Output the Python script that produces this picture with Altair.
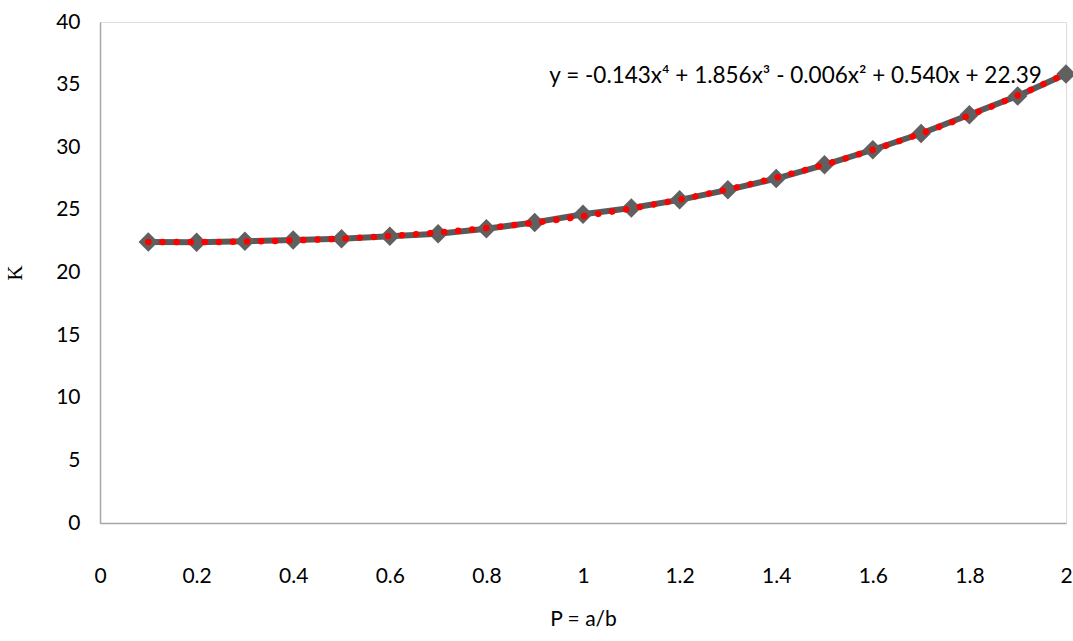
import altair as alt
import pandas as pd

p_vals = [0.1, 0.2, 0.3, 0.4, 0.5, 0.6, 0.7, 0.8, 0.9, 1.0,
          1.1, 1.2, 1.3, 1.4, 1.5, 1.6, 1.7, 1.8, 1.9, 2.0]
k_vals = [22.43, 22.42, 22.5, 22.6, 22.7, 22.9, 23.1, 23.5, 24.0, 24.65,
          25.15, 25.8, 26.6, 27.5, 28.6, 29.8, 31.1, 32.6, 34.1, 35.85]

eq_text = ["y = -0.143x\u2074 + 1.856x\u00b3 - 0.006x\u00b2 + 0.540x + 22.39"]
eq_x = [1.95]
eq_y = [35.65]

df = pd.DataFrame({"P": p_vals, "K": k_vals})
df_eq = pd.DataFrame({"t": eq_text, "x": eq_x, "y": eq_y})

xs = alt.Scale(domain=[0, 2], nice=False)
ys = alt.Scale(domain=[0, 40], nice=False)

base = alt.Chart(df)

line = base.mark_line(color="#5a5a5a", strokeWidth=6).encode(
    x=alt.X("P:Q", scale=xs, title="P = a/b",
            axis=alt.Axis(values=[0, 0.2, 0.4, 0.6, 0.8, 1, 1.2, 1.4, 1.6, 1.8, 2],
                          labelExpr="datum.value == 0 ? '0' : format(datum.value, '.1~f')",
                          grid=False, ticks=False, domainColor="#a6a6a6", domainWidth=1.5,
                          labelFont="Lato", labelFontSize=21, labelColor="#000",
                          labelPadding=42, labelFlush=False,
                          titleFont="Lato", titleFontSize=21, titleFontWeight="normal",
                          titleColor="#000", titlePadding=22)),
    y=alt.Y("K:Q", scale=ys, title="K",
            axis=alt.Axis(values=[0, 5, 10, 15, 20, 25, 30, 35, 40],
                          grid=False, ticks=False, domainColor="#a6a6a6", domainWidth=1.5,
                          labelFont="Lato", labelFontSize=21, labelColor="#000",
                          labelPadding=20,
                          titleFont="Liberation Serif", titleFontSize=21, titleFontWeight="normal",
                          titleColor="#000", titlePadding=30)),
)

pts = base.mark_point(shape="diamond", filled=True, color="#606060", size=380, opacity=1).encode(
    x=alt.X("P:Q", scale=xs), y=alt.Y("K:Q", scale=ys)
)

trend = base.transform_regression("P", "K", method="poly", order=4).mark_line(
    color="#ff0000", strokeWidth=6.5, strokeDash=[0.1, 14], strokeCap="round"
).encode(x=alt.X("P:Q", scale=xs), y=alt.Y("K:Q", scale=ys))

eq = alt.Chart(df_eq).mark_text(align="right", baseline="middle", font="Lato",
                               fontSize=22.5, color="#000").encode(
    x=alt.X("x:Q", scale=xs), y=alt.Y("y:Q", scale=ys), text="t:N"
)

chart = alt.layer(line, pts, trend, eq).properties(
    width=966, height=501,
    autosize=alt.AutoSizeParams(type="none"),
    padding={"left": 100, "top": 22, "right": 7, "bottom": 118},
).configure_view(stroke=None).configure(background="white")

chart.save("out.html", embed_options={"renderer": "svg", "actions": False})
